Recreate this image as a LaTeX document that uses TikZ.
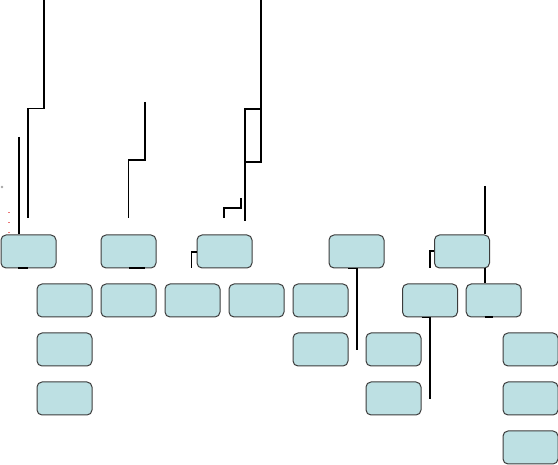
\documentclass[tikz,border=0pt]{standalone}
\usetikzlibrary{calc}
\definecolor{boxfill}{RGB}{189,224,227}
\definecolor{boxline}{RGB}{60,60,60}
\definecolor{dotred}{RGB}{235,120,120}
\begin{document}
\begin{tikzpicture}[x=1pt,y=-1pt,
  box/.style={draw=boxline,fill=boxfill,line width=1pt,rounded corners=5pt,
    minimum width=55pt,minimum height=33pt,inner sep=0pt},
  wire/.style={draw=black,line width=1.8pt},
  tick/.style={draw=black,line width=2pt}]
\useasboundingbox (0,0) rectangle (558,465);
% row 1
\node[box] (a1) at (28.5,251.5) {};
\node[box] (a2) at (128.5,251.5) {};
\node[box] (a3) at (224.5,251.5) {};
\node[box] (a4) at (356.5,251.5) {};
\node[box] (a5) at (462,251.5) {};
% row 2
\node[box] (b1) at (64.5,300.5) {};
\node[box] (b2) at (128.5,300.5) {};
\node[box] (b3) at (192.5,300.5) {};
\node[box] (b4) at (256.5,300.5) {};
\node[box] (b5) at (320.5,300.5) {};
\node[box] (b6) at (430,300.5) {};
\node[box] (b7) at (493.7,300.5) {};
% row 3
\node[box] (c1) at (64.5,349.5) {};
\node[box] (c2) at (320.5,349.5) {};
\node[box] (c3) at (393.5,349.5) {};
\node[box] (c4) at (530.5,349.5) {};
% row 4
\node[box] (d1) at (64.5,398.5) {};
\node[box] (d2) at (393.5,398.5) {};
\node[box] (d3) at (530.5,398.5) {};
% row 5
\node[box] (e1) at (530.5,447.5) {};
% free ends
\coordinate (pA) at (44,0);
\coordinate (pA2) at (28,218);
\coordinate (pB) at (19,137);
\coordinate (pC) at (145,102);
\coordinate (pC2) at (128.5,218);
\coordinate (pD) at (261,0);
\coordinate (pD2) at (245,221);
\coordinate (pDs) at (241,198);
\coordinate (pDs2) at (224,218);
\coordinate (pE) at (357,350);
\coordinate (pG) at (484.7,186);
\coordinate (pH) at (430,399);
% connectors
\draw[wire] (pA) |- (28,108.5) -- (pA2);
\draw[wire] (pB) -- ($(a1.north)+(-9.5,0)$);
\draw[wire] (pC) |- (128.5,160) -- (pC2);
\draw[tick] ($(a1.south)+(-10.5,0)$) -- ($(a1.south)+(-0.5,0)$);
\draw[tick] ($(a2.south)+(0.5,0)$) -- ($(a2.south)+(16.5,0)$);
\draw[wire] ($(a3.west)+(0,0.5)$) -- ++(-5,0) -- ($(a3.south west)+(-5,0)$);
\draw[wire] (pD) -- (261,109) -- (245,109) -- (245,162) -- (261,162) -- (261,109);
\draw[wire] (245,162) -- (pD2);
\draw[wire] (pDs) |- (224,208) -- (pDs2);
\draw[wire] ($(a4.south)+(-8.5,0)$) -| (pE);
\draw[wire] ($(a5.west)+(0,-0.5)$) -- ++(-4,0) -- ($(a5.south west)+(-4,0)$);
\draw[wire] (pG) -- (pG |- a5.north);
\draw[wire] (pG |- a5.south) -- (pG |- b7.north);
\draw[tick] (pG |- b7.south) -- ++(8.5,0);
\draw[wire] ($(b6.south)+(-8.3,0)$) -| (pH);
% tiny marks
\fill[gray!70] (2,187) circle (1.3pt);
\foreach \yy in {211.7,221.7,232}{\fill[dotred] (7.5,\yy) rectangle (9.5,\yy+1.2);}
\end{tikzpicture}
\end{document}
